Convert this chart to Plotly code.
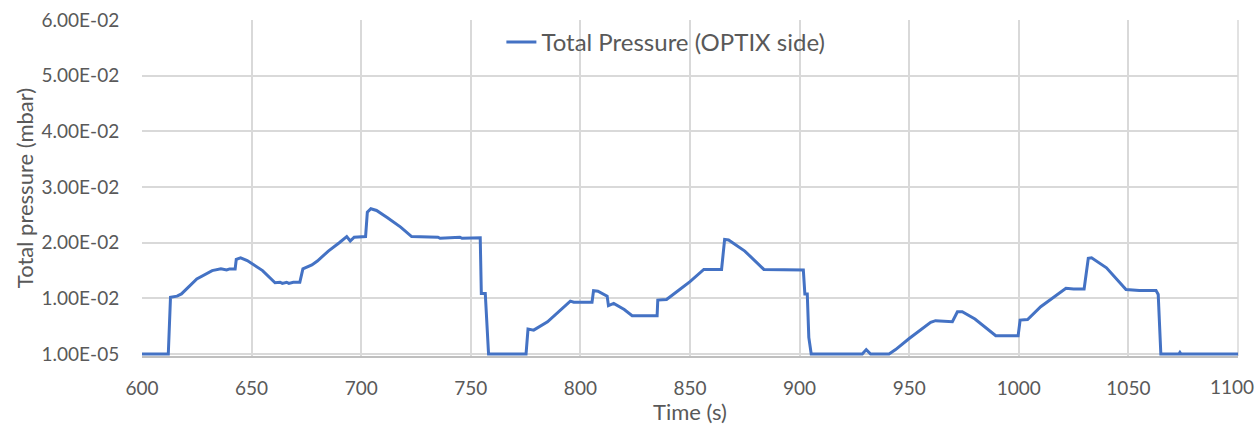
import plotly.graph_objects as go

# Total pressure trace, OPTIX side (time in s, pressure in mbar)
time_s = [
    600, 612, 613, 616, 618, 625, 632, 636, 638.6, 640, 642.5, 643, 645, 648, 655,
    660.7, 663, 664, 666, 667, 669, 672, 673.4, 677.5, 680, 685, 690, 693.4, 695,
    696.8, 702, 702.8, 704.4, 707, 712, 718, 723, 735, 736, 745, 746, 754.3, 754.8,
    756.6, 758.1, 775.2, 776.1, 778.7, 785, 795.4, 797, 805.3, 806, 808, 812.2,
    812.8, 815.2, 820, 823.6, 835, 835.3, 839.3, 845, 850, 856.3, 858, 864.4,
    865.8, 867.6, 875, 883.7, 901.7, 902.4, 903.5, 904.2, 905.3, 928.6, 930.4,
    932.4, 940.8, 943.8, 950, 959.8, 962, 969.7, 972, 974.2, 980, 989.5, 999.7,
    1000.6, 1004, 1010, 1021.5, 1025, 1029.8, 1031.7, 1033.2, 1040, 1048.9, 1055,
    1062.6, 1063.6, 1064.8, 1073, 1073.5, 1074, 1100,
]
pressure_mbar = [
    1e-5, 1e-5, 0.0102, 0.0104, 0.0108, 0.0135, 0.0150, 0.0153, 0.0151, 0.0153,
    0.0153, 0.0170, 0.0173, 0.0168, 0.0150, 0.0128, 0.0129, 0.0127, 0.0129,
    0.0127, 0.0129, 0.0129, 0.0153, 0.0160, 0.0167, 0.0185, 0.0200, 0.0211,
    0.0203, 0.0210, 0.0211, 0.0255, 0.0261, 0.0258, 0.0245, 0.0228, 0.0211,
    0.0210, 0.0208, 0.0210, 0.0208, 0.0209, 0.0109, 0.0109, 1e-5, 1e-5, 0.0045,
    0.0043, 0.0058, 0.0095, 0.0093, 0.0093, 0.0114, 0.0113, 0.0104, 0.0087,
    0.0091, 0.0080, 0.0069, 0.0069, 0.0097, 0.0098, 0.0115, 0.0130, 0.0152,
    0.0152, 0.0152, 0.0206, 0.0205, 0.0185, 0.0152, 0.0151, 0.0108, 0.0108,
    0.0030, 1e-5, 1e-5, 0.0008, 1e-5, 1e-5, 0.0008, 0.0028, 0.0057, 0.0060,
    0.0058, 0.0076, 0.0076, 0.0063, 0.0033, 0.0033, 0.0061, 0.0062, 0.0085,
    0.0118, 0.0117, 0.0117, 0.0172, 0.0173, 0.0155, 0.0116, 0.0114, 0.0114,
    0.0107, 1e-5, 1e-5, 0.0003, 1e-5, 1e-5,
]

x_ticks = [600, 650, 700, 750, 800, 850, 900, 950, 1000, 1050, 1100]
# the last label is drawn separately, nudged inward so it stays on the page
x_tick_labels = [str(v) for v in x_ticks[:-1]] + [""]
y_ticks = [1e-5, 0.01, 0.02, 0.03, 0.04, 0.05, 0.06]
y_tick_labels = ["1.00E-05", "1.00E-02", "2.00E-02", "3.00E-02",
                 "4.00E-02", "5.00E-02", "6.00E-02"]

FONT = "Lato, Calibri, sans-serif"
TEXT_GREY = "#595959"
GRID = "#d9d9d9"
CLEAR = "rgba(0,0,0,0)"

fig = go.Figure()
fig.add_trace(go.Scatter(
    x=time_s, y=pressure_mbar, mode="lines",
    name="Total Pressure (OPTIX side)",
    line=dict(color="#4472C4", width=3),
))

# right-hand frame edge of the plot area, drawn like a gridline
fig.add_shape(type="line", xref="paper", yref="paper", x0=1, x1=1, y0=0, y1=1,
              line=dict(color=GRID, width=1.5), layer="below")

fig.add_annotation(
    x=x_ticks[-1], xref="x", y=0, yref="paper",
    text=str(x_ticks[-1]), showarrow=False,
    xanchor="center", yanchor="middle", xshift=-6, yshift=-30,
    font=dict(size=19, color=TEXT_GREY, family=FONT),
)

fig.update_layout(
    width=1256, height=425,
    margin=dict(l=142, r=18, t=20, b=69),
    paper_bgcolor="white", plot_bgcolor="white",
    font=dict(family=FONT, color=TEXT_GREY, size=19),
    showlegend=True,
    legend=dict(
        x=0.478, y=1.0, xanchor="center", yanchor="top",
        orientation="h", bgcolor=CLEAR,
        font=dict(size=24, color=TEXT_GREY, family=FONT),
    ),
    xaxis=dict(
        range=[600, 1100], tickvals=x_ticks, ticktext=x_tick_labels,
        ticklabeloverflow="allow", automargin=False,
        showgrid=True, gridcolor=GRID, gridwidth=1.5,
        zeroline=False, showline=True, linecolor="#bfbfbf", linewidth=1.5,
        ticks="outside", ticklen=14, tickcolor=CLEAR,
        tickfont=dict(size=19, color=TEXT_GREY),
        title=dict(text="Time (s)", font=dict(size=22, color=TEXT_GREY), standoff=4),
    ),
    yaxis=dict(
        range=[-0.000349, 0.06001], tickvals=y_ticks, ticktext=y_tick_labels,
        automargin=False,
        showgrid=True, gridcolor=GRID, gridwidth=1.5,
        zeroline=False, showline=False,
        ticks="outside", ticklen=18, tickcolor=CLEAR,
        tickfont=dict(size=19, color=TEXT_GREY),
        title=dict(text="Total pressure (mbar)", font=dict(size=22, color=TEXT_GREY),
                   standoff=1),
    ),
)

fig.write_html("out.html")
